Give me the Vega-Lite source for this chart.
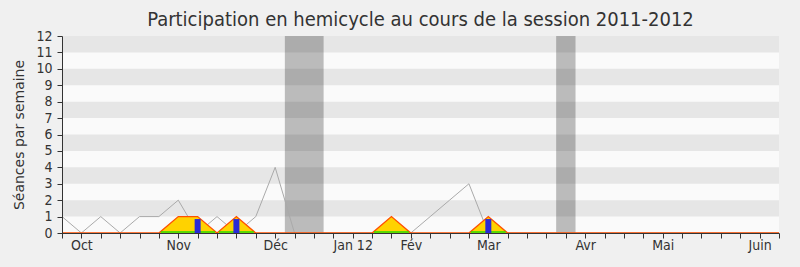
{
  "$schema": "https://vega.github.io/schema/vega-lite/v6.json",
  "width": 717,
  "height": 197,
  "autosize": "none",
  "padding": {"left": 62, "top": 36, "right": 21, "bottom": 34},
  "background": "#f0f0f0",
  "title": {
    "text": "Participation en hemicycle au cours de la session 2011-2012",
    "font": "DejaVu Sans Condensed, DejaVu Sans",
    "fontSize": 20,
    "fontWeight": "normal",
    "color": "#333333",
    "anchor": "middle",
    "offset": -1
  },
  "config": {
    "view": {"fill": "#fafafa", "stroke": null},
    "axis": {
      "labelFont": "DejaVu Sans Condensed, DejaVu Sans",
      "titleFont": "DejaVu Sans",
      "labelFontSize": 14,
      "titleFontSize": 14,
      "titleFontWeight": "normal",
      "labelColor": "#333333",
      "titleColor": "#333333",
      "domainColor": "#333333",
      "tickColor": "#333333",
      "grid": false
    }
  },
  "datasets": {
    "semaines": [
      {"semaine": 0, "hemicycle": 1, "presence": 0},
      {"semaine": 1, "hemicycle": 0, "presence": 0},
      {"semaine": 2, "hemicycle": 1, "presence": 0},
      {"semaine": 3, "hemicycle": 0, "presence": 0},
      {"semaine": 4, "hemicycle": 1, "presence": 0},
      {"semaine": 5, "hemicycle": 1, "presence": 0},
      {"semaine": 6, "hemicycle": 2, "presence": 1},
      {"semaine": 7, "hemicycle": 0, "presence": 1},
      {"semaine": 8, "hemicycle": 1, "presence": 0},
      {"semaine": 9, "hemicycle": 0, "presence": 1},
      {"semaine": 10, "hemicycle": 1, "presence": 0},
      {"semaine": 11, "hemicycle": 4, "presence": 0},
      {"semaine": 12, "hemicycle": 0, "presence": 0},
      {"semaine": 13, "hemicycle": 0, "presence": 0},
      {"semaine": 14, "hemicycle": 0, "presence": 0},
      {"semaine": 15, "hemicycle": 0, "presence": 0},
      {"semaine": 16, "hemicycle": 0, "presence": 0},
      {"semaine": 17, "hemicycle": 0, "presence": 1},
      {"semaine": 18, "hemicycle": 0, "presence": 0},
      {"semaine": 19, "hemicycle": 1, "presence": 0},
      {"semaine": 20, "hemicycle": 2, "presence": 0},
      {"semaine": 21, "hemicycle": 3, "presence": 0},
      {"semaine": 22, "hemicycle": 0, "presence": 1},
      {"semaine": 23, "hemicycle": 0, "presence": 0},
      {"semaine": 24, "hemicycle": 0, "presence": 0},
      {"semaine": 25, "hemicycle": 0, "presence": 0},
      {"semaine": 26, "hemicycle": 0, "presence": 0},
      {"semaine": 27, "hemicycle": 0, "presence": 0},
      {"semaine": 28, "hemicycle": 0, "presence": 0},
      {"semaine": 29, "hemicycle": 0, "presence": 0},
      {"semaine": 30, "hemicycle": 0, "presence": 0},
      {"semaine": 31, "hemicycle": 0, "presence": 0},
      {"semaine": 32, "hemicycle": 0, "presence": 0},
      {"semaine": 33, "hemicycle": 0, "presence": 0},
      {"semaine": 34, "hemicycle": 0, "presence": 0},
      {"semaine": 35, "hemicycle": 0, "presence": 0},
      {"semaine": 36, "hemicycle": 0, "presence": 0},
      {"semaine": 37, "hemicycle": 0, "presence": 0}
    ],
    "bandes": [
      {"semaine": 0, "semaine_fin": 37, "valeur": 1, "valeur_fin": 2},
      {"semaine": 0, "semaine_fin": 37, "valeur": 3, "valeur_fin": 4},
      {"semaine": 0, "semaine_fin": 37, "valeur": 5, "valeur_fin": 6},
      {"semaine": 0, "semaine_fin": 37, "valeur": 7, "valeur_fin": 8},
      {"semaine": 0, "semaine_fin": 37, "valeur": 9, "valeur_fin": 10},
      {"semaine": 0, "semaine_fin": 37, "valeur": 11, "valeur_fin": 12}
    ],
    "vacances": [
      {"semaine": 11.5, "semaine_fin": 13.5, "valeur": 0, "valeur_fin": 12},
      {"semaine": 25.5, "semaine_fin": 26.5, "valeur": 0, "valeur_fin": 12}
    ],
    "interventions": [
      {"segment": "a", "semaine": 5.1, "valeur": 0.06},
      {"segment": "a", "semaine": 7.9, "valeur": 0.06},
      {"segment": "b", "semaine": 8.1, "valeur": 0.06},
      {"segment": "b", "semaine": 9.9, "valeur": 0.06},
      {"segment": "c", "semaine": 16.1, "valeur": 0.06},
      {"segment": "c", "semaine": 17.9, "valeur": 0.06},
      {"segment": "d", "semaine": 21.1, "valeur": 0.06},
      {"segment": "d", "semaine": 22.9, "valeur": 0.06}
    ],
    "questions": [
      {"semaine": 7, "valeur": 0.85},
      {"semaine": 9, "valeur": 0.85},
      {"semaine": 22, "valeur": 0.85}
    ]
  },
  "encoding": {
    "x": {
      "field": "semaine",
      "type": "quantitative",
      "scale": {"domain": [0, 37], "nice": false, "zero": false, "padding": 0},
      "axis": {
        "values": [0,1,2,3,4,5,6,7,8,9,10,11,12,13,14,15,16,17,18,19,20,21,22,23,24,25,26,27,28,29,30,31,32,33,34,35,36,37],
        "labelExpr": "datum.value == 1 ? 'Oct' : datum.value == 6 ? 'Nov' : datum.value == 11 ? 'Déc' : datum.value == 15 ? 'Jan 12' : datum.value == 18 ? 'Fév' : datum.value == 22 ? 'Mar' : datum.value == 27 ? 'Avr' : datum.value == 31 ? 'Mai' : datum.value == 36 ? 'Juin' : ''",
        "labelOverlap": false,
        "labelFlush": false,
        "tickSize": 5,
        "labelPadding": 0,
        "zindex": 1,
        "title": null
      }
    },
    "y": {
      "field": "valeur",
      "type": "quantitative",
      "scale": {"domain": [0, 12], "nice": false, "padding": 0},
      "axis": {
        "title": "Séances par semaine",
        "values": [0,1,2,3,4,5,6,7,8,9,10,11,12],
        "tickSize": 5,
        "labelPadding": 5,
        "titlePadding": 9,
        "zindex": 1
      }
    }
  },
  "layer": [
    {
      "data": {"name": "bandes"},
      "mark": {"type": "rect", "color": "#e6e6e6"},
      "encoding": {
        "x2": {"field": "semaine_fin"},
        "y2": {"field": "valeur_fin"}
      }
    },
    {
      "data": {"name": "vacances"},
      "mark": {"type": "rect", "color": "#000000", "opacity": 0.25},
      "encoding": {
        "x2": {"field": "semaine_fin"},
        "y2": {"field": "valeur_fin"}
      }
    },
    {
      "data": {"name": "semaines"},
      "transform": [
        {"fold": ["hemicycle"], "as": ["serie", "valeur"]}
      ],
      "mark": {"type": "line", "color": "#aaaaaa", "strokeWidth": 1}
    },
    {
      "data": {"name": "semaines"},
      "transform": [
        {"fold": ["presence"], "as": ["serie", "valeur"]}
      ],
      "mark": {"type": "area", "color": "#ffd200", "opacity": 1, "line": {"color": "#ff5000", "strokeWidth": 1.3}}
    },
    {
      "data": {"name": "interventions"},
      "mark": {"type": "line", "color": "#22dd00", "strokeWidth": 1.5},
      "encoding": {
        "detail": {"field": "segment"}
      }
    },
    {
      "data": {"name": "questions"},
      "mark": {"type": "bar", "color": "#2a2ad8", "size": 6}
    }
  ]
}
